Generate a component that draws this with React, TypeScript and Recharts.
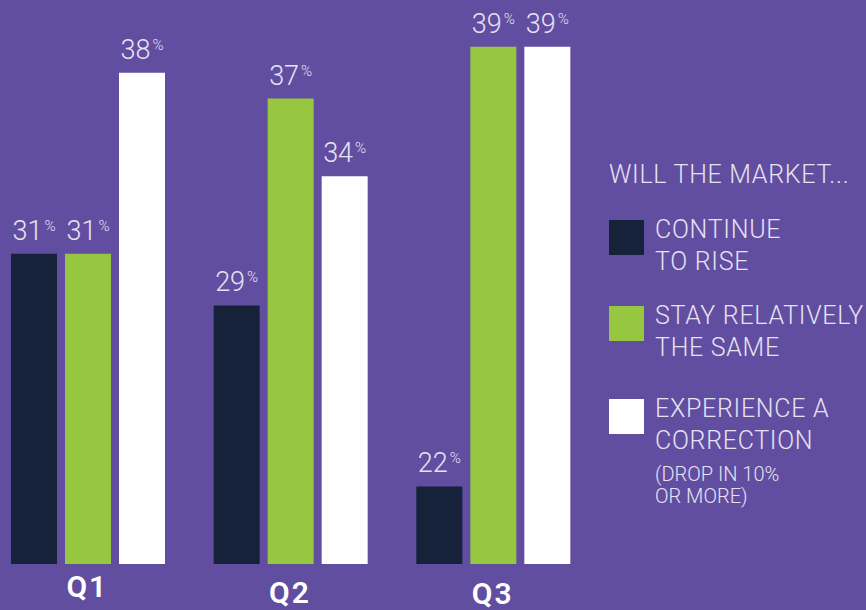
import { BarChart, Bar, XAxis, YAxis, LabelList, Legend } from "recharts";

const quarters = ["Q1", "Q2", "Q3"];
const continueToRise = [31, 29, 22];
const staySame = [31, 37, 39];
const correction = [38, 34, 39];

const legendTitle = "WILL THE MARKET...";
const riseLines = ["CONTINUE", "TO RISE"];
const sameLines = ["STAY RELATIVELY", "THE SAME"];
const correctionLines = ["EXPERIENCE A", "CORRECTION"];
const correctionNote = ["(DROP IN 10%", "OR MORE)"];

const BG = "#614ea0";
const NAVY = "#16213a";
const GREEN = "#97c640";
const WHITE = "#ffffff";
const TEXT = "#e6e2f2";
const FONT = "Roboto, 'Noto Sans', sans-serif";

const data = quarters.map((q, i) => ({
  quarter: q,
  rise: continueToRise[i],
  same: staySame[i],
  correction: correction[i],
}));

const legendText: Record<string, { lines: string[]; note: string[]; top: number }> = {
  rise: { lines: riseLines, note: [], top: 220 },
  same: { lines: sameLines, note: [], top: 306 },
  correction: { lines: correctionLines, note: correctionNote, top: 399 },
};

function PctLabel(props: any) {
  const { x, y, width, value } = props;
  return (
    <text
      x={x + width / 2}
      y={y - 14}
      textAnchor="middle"
      fill={TEXT}
      fontFamily={FONT}
      fontWeight={300}
    >
      <tspan fontSize={27}>{value}</tspan>
      <tspan fontSize={15} dx={2} dy={-9}>%</tspan>
    </text>
  );
}

// the quarter labels sit slightly lower from left to right in the original
const tickDrop = [25, 31, 32];

function QuarterTick(props: any) {
  const { x, y, payload, index } = props;
  return (
    <text
      x={x}
      y={y + tickDrop[index ?? 0]}
      textAnchor="middle"
      fill="#ffffff"
      fontFamily={FONT}
      fontWeight={600}
      fontSize={30}
      letterSpacing={2}
    >
      {payload.value}
    </text>
  );
}

function MarketLegend({ payload }: any) {
  return (
    <svg width={266} height={610} style={{ display: "block" }}>
      <text
        x={9}
        y={183}
        fill={TEXT}
        fontFamily={FONT}
        fontWeight={300}
        fontSize={25}
        letterSpacing={0.7}
      >
        {legendTitle}
      </text>
      {(payload || []).map((entry: any) => {
        const info = legendText[entry.dataKey];
        const top = info.top;
        return (
          <g key={entry.dataKey}>
            <rect x={9} y={top} width={35} height={35} fill={entry.color} />
            {info.lines.map((line, j) => (
              <text
                key={line}
                x={55}
                y={top + 18 + j * 32}
                fill={TEXT}
                fontFamily={FONT}
                fontWeight={300}
                fontSize={25}
                letterSpacing={0.7}
              >
                {line}
              </text>
            ))}
            {info.note.map((line, j) => (
              <text
                key={line}
                x={55}
                y={top + 82 + j * 22}
                fill={TEXT}
                fontFamily={FONT}
                fontWeight={300}
                fontSize={20}
              >
                {line}
              </text>
            ))}
          </g>
        );
      })}
    </svg>
  );
}

export default function App() {
  return (
    <div
      style={{
        width: 866,
        height: 610,
        background: BG,
        position: "relative",
        overflow: "hidden",
      }}
    >
      <style>{`body{margin:0}`}</style>
      <div style={{ position: "absolute", left: -14, top: 0 }}>
        <BarChart
          width={880}
          height={610}
          data={data}
          margin={{ top: 21, right: 272, left: 0, bottom: 16 }}
          barCategoryGap={25}
          barGap={8}
        >
          <XAxis
            dataKey="quarter"
            axisLine={false}
            tickLine={false}
            height={30}
            tick={<QuarterTick />}
          />
          <YAxis hide domain={[19, 40]} allowDataOverflow />
          <Legend
            layout="horizontal"
            verticalAlign="middle"
            align="center"
            wrapperStyle={{ position: "absolute", left: 614, top: 0, width: 266, height: 610 }}
            content={<MarketLegend />}
          />
          <Bar dataKey="rise" name="CONTINUE TO RISE" fill={NAVY} isAnimationActive={false}>
            <LabelList dataKey="rise" content={<PctLabel />} />
          </Bar>
          <Bar dataKey="same" name="STAY RELATIVELY THE SAME" fill={GREEN} isAnimationActive={false}>
            <LabelList dataKey="same" content={<PctLabel />} />
          </Bar>
          <Bar dataKey="correction" name="EXPERIENCE A CORRECTION" fill={WHITE} isAnimationActive={false}>
            <LabelList dataKey="correction" content={<PctLabel />} />
          </Bar>
        </BarChart>
      </div>
    </div>
  );
}
